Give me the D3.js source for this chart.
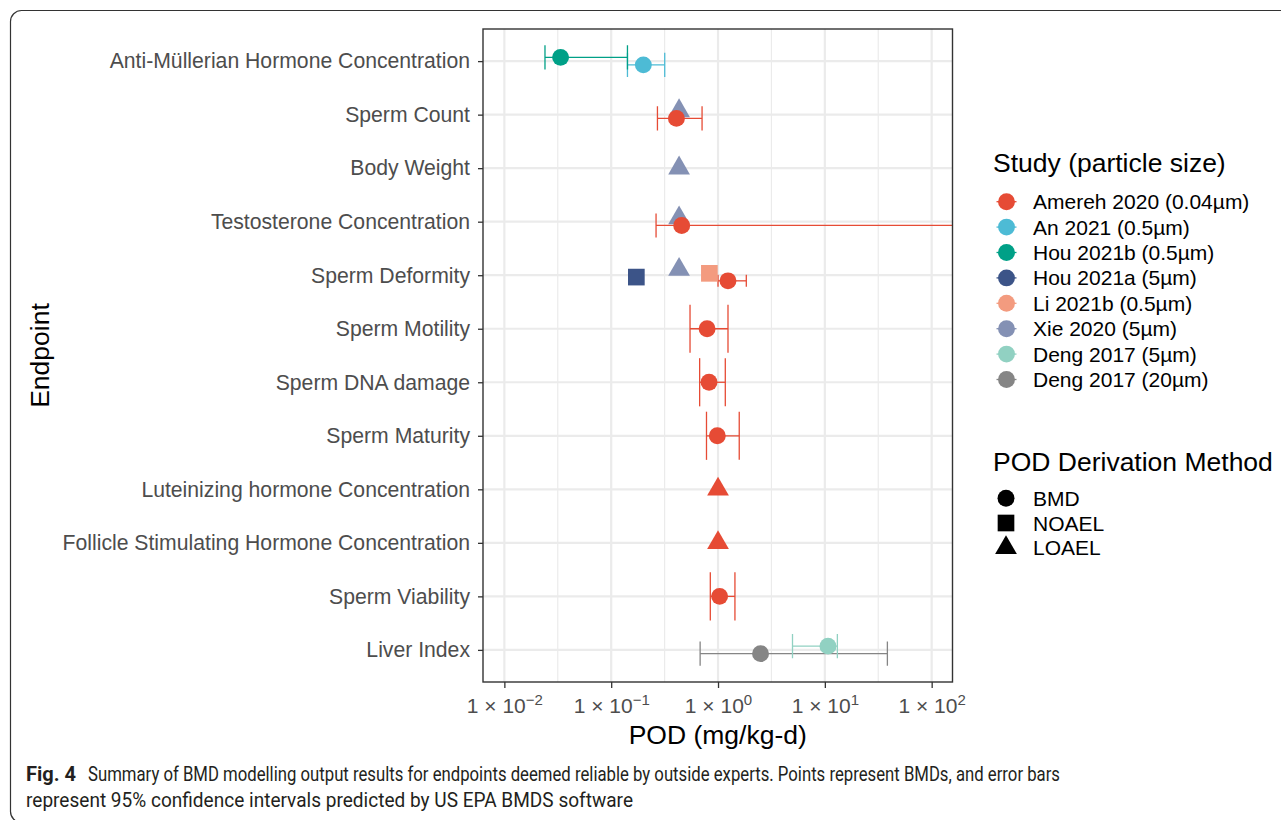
<!DOCTYPE html>
<html>
<head>
<meta charset="utf-8">
<script src="https://cdn.jsdelivr.net/npm/d3@7"></script>
<style>
  body { margin: 0; background: #fff; }
  svg { display: block; }
</style>
</head>
<body>
<svg id="chart" width="1281" height="820"></svg>
<script>
// endpoints, top to bottom
var endpoints = [
  "Anti-Müllerian Hormone Concentration",
  "Sperm Count",
  "Body Weight",
  "Testosterone Concentration",
  "Sperm Deformity",
  "Sperm Motility",
  "Sperm DNA damage",
  "Sperm Maturity",
  "Luteinizing hormone Concentration",
  "Follicle Stimulating Hormone Concentration",
  "Sperm Viability",
  "Liver Index"
];

var studies = [
  "Amereh 2020 (0.04µm)", "An 2021 (0.5µm)", "Hou 2021b (0.5µm)", "Hou 2021a (5µm)",
  "Li 2021b (0.5µm)", "Xie 2020 (5µm)", "Deng 2017 (5µm)", "Deng 2017 (20µm)"
];
var studyColors = ["#E64B35", "#4DBBD5", "#00A087", "#3C5488", "#F39B7F", "#8491B4", "#91D1C2", "#858585"];

var methods = ["BMD", "NOAEL", "LOAEL"];

// one entry per plotted point (within an endpoint, first entry sits lowest)
var rowEndpoint = [0, 0, 1, 1, 2, 3, 3, 4, 4, 4, 4, 5, 6, 7, 8, 9, 10, 11, 11];
var rowStudy    = [1, 2, 0, 5, 5, 0, 5, 0, 3, 4, 5, 0, 0, 0, 0, 0, 0, 7, 6];
var rowMethod   = [0, 0, 0, 2, 2, 0, 2, 0, 1, 1, 2, 0, 0, 0, 2, 2, 0, 0, 0];
var rowPOD      = [0.20, 0.0336, 0.408, 0.432, 0.432, 0.457, 0.432, 1.24, 0.172, 0.83, 0.432,
                   0.79, 0.824, 0.985, 1.0, 1.0, 1.035, 2.5, 10.7];
var rowLower    = [0.142, 0.024, 0.271, null, null, 0.263, null, 1.0, null, null, null,
                   0.547, 0.673, 0.78, null, null, 0.847, 0.68, 4.98];
var rowUpper    = [0.317, 0.142, 0.709, null, null, 1000, null, 1.84, null, null, null,
                   1.24, 1.17, 1.58, null, null, 1.44, 38.5, 13.1];

var xTicks = [1e-2, 1e-1, 1e0, 1e1, 1e2];
var xMinor = [Math.pow(10, -1.5), Math.pow(10, -0.5), Math.pow(10, 0.5), Math.pow(10, 1.5)];

// build table with dodge slot
var rows = rowPOD.map(function(v, i) {
  return {endpoint: endpoints[rowEndpoint[i]], study: rowStudy[i], method: rowMethod[i],
          pod: v, lower: rowLower[i], upper: rowUpper[i]};
});
var counts = {};
rows.forEach(function(r) {
  counts[r.endpoint] = (counts[r.endpoint] || 0);
  r.slot = counts[r.endpoint];
  counts[r.endpoint] += 1;
});
rows.forEach(function(r) { r.n = counts[r.endpoint]; });

var pLeft = 483, pRight = 952.5, pTop = 29, pBottom = 682;
var font = "'Liberation Sans', Arial, sans-serif";

var svg = d3.select("#chart");

// outer frame
svg.append("rect")
  .attr("x", 10.5).attr("y", 10.5)
  .attr("width", 1300).attr("height", 812)
  .attr("rx", 11)
  .attr("fill", "none").attr("stroke", "#333").attr("stroke-width", 1.2);

var x = d3.scaleLog()
  .domain([Math.pow(10, -2.2), Math.pow(10, 2.195)])
  .range([pLeft, pRight]);

var y = d3.scalePoint()
  .domain(endpoints)
  .range([pTop, pBottom])
  .padding(0.6);

var step = y.step();
var dodgeW = 15;
function yPos(r) {
  return y(r.endpoint) + dodgeW / 2 - dodgeW * (r.slot + 0.5) / r.n;
}

// grid
var grid = svg.append("g");
grid.selectAll(".minor").data(xMinor).enter().append("line")
  .attr("x1", function(d) { return x(d); }).attr("x2", function(d) { return x(d); })
  .attr("y1", pTop).attr("y2", pBottom)
  .attr("stroke", "#EBEBEB").attr("stroke-width", 1.2);
grid.selectAll(".majorx").data(xTicks).enter().append("line")
  .attr("x1", function(d) { return x(d); }).attr("x2", function(d) { return x(d); })
  .attr("y1", pTop).attr("y2", pBottom)
  .attr("stroke", "#EBEBEB").attr("stroke-width", 2.2);
grid.selectAll(".majory").data(endpoints).enter().append("line")
  .attr("x1", pLeft).attr("x2", pRight)
  .attr("y1", function(d) { return y(d); }).attr("y2", function(d) { return y(d); })
  .attr("stroke", "#EBEBEB").attr("stroke-width", 2.2);

svg.append("clipPath").attr("id", "panelClip")
  .append("rect").attr("x", pLeft).attr("y", pTop).attr("width", pRight - pLeft).attr("height", pBottom - pTop);

var plot = svg.append("g").attr("clip-path", "url(#panelClip)");

// error bars
var eb = plot.selectAll(".eb").data(rows.filter(function(r) { return r.lower != null; }))
  .enter().append("g")
  .attr("stroke", function(d) { return studyColors[d.study]; })
  .attr("stroke-width", 1.3)
  .attr("fill", "none");
eb.append("line")
  .attr("x1", function(d) { return x(d.lower); }).attr("x2", function(d) { return x(d.upper); })
  .attr("y1", yPos).attr("y2", yPos);
eb.each(function(d) {
  var h = 0.9 * step / d.n / 2;
  var g = d3.select(this);
  [d.lower, d.upper].forEach(function(v) {
    g.append("line")
      .attr("x1", x(v)).attr("x2", x(v))
      .attr("y1", yPos(d) - h).attr("y2", yPos(d) + h);
  });
});

// points
var symbolTypes = [d3.symbolCircle, d3.symbolSquare, d3.symbolTriangle];
var symbolSizes = [225, 278, 205];
function symbolPath(m) {
  return d3.symbol().type(symbolTypes[m]).size(symbolSizes[m])();
}
var drawOrder = rows.slice().sort(function(a, b) { return b.method - a.method; });
plot.selectAll(".pt").data(drawOrder).enter().append("path")
  .attr("d", function(d) { return symbolPath(d.method); })
  .attr("transform", function(d) { return "translate(" + x(d.pod) + "," + yPos(d) + ")"; })
  .attr("fill", function(d) { return studyColors[d.study]; });

// panel border
svg.append("rect")
  .attr("x", pLeft).attr("y", pTop).attr("width", pRight - pLeft).attr("height", pBottom - pTop)
  .attr("fill", "none").attr("stroke", "#333").attr("stroke-width", 1.4);

// axes
var xAxis = svg.append("g")
  .attr("transform", "translate(0," + pBottom + ")")
  .call(d3.axisBottom(x).tickValues(xTicks).tickSize(6).tickFormat(""));
xAxis.select(".domain").remove();
xAxis.selectAll(".tick line").attr("stroke", "#333").attr("stroke-width", 1.3);
xAxis.selectAll(".tick text").each(function(d) {
  var t = d3.select(this)
    .attr("y", 31).attr("dy", null)
    .attr("font-family", font).attr("font-size", 21).attr("fill", "#4D4D4D")
    .attr("text-anchor", "middle");
  t.append("tspan").text("1 × 10");
  t.append("tspan").attr("dy", -8).attr("font-size", 15)
    .text(String(Math.round(Math.log10(d))).replace("-", "−"));
});

var yAxis = svg.append("g")
  .attr("transform", "translate(" + pLeft + ",0)")
  .call(d3.axisLeft(y).tickSize(5).tickPadding(8));
yAxis.select(".domain").remove();
yAxis.selectAll(".tick line").attr("stroke", "#333").attr("stroke-width", 1.3);
yAxis.selectAll(".tick text")
  .attr("font-family", font).attr("font-size", 21.2).attr("fill", "#4D4D4D");

// axis titles
svg.append("text")
  .attr("x", (pLeft + pRight) / 2).attr("y", 744)
  .attr("text-anchor", "middle")
  .attr("font-family", font).attr("font-size", 26.5).attr("fill", "#000")
  .text("POD (mg/kg-d)");
svg.append("text")
  .attr("transform", "translate(49," + ((pTop + pBottom) / 2) + ") rotate(-90)")
  .attr("text-anchor", "middle")
  .attr("font-family", font).attr("font-size", 26.5).attr("fill", "#000")
  .text("Endpoint");

// legend: study
var lg1 = svg.append("g");
lg1.append("text")
  .attr("x", 993).attr("y", 172)
  .attr("font-family", font).attr("font-size", 26.5).attr("fill", "#000")
  .text("Study (particle size)");
var item = lg1.selectAll(".item").data(studies).enter().append("g")
  .attr("transform", function(d, i) { return "translate(1006.5," + (201.7 + i * 25.4) + ")"; });
item.append("line")
  .attr("x1", -10).attr("x2", 10)
  .attr("stroke", function(d, i) { return studyColors[i]; }).attr("stroke-width", 1.3);
item.append("path")
  .attr("d", symbolPath(0))
  .attr("fill", function(d, i) { return studyColors[i]; });
item.append("text")
  .attr("x", 26.5).attr("y", 7.5)
  .attr("font-family", font).attr("font-size", 21).attr("fill", "#000")
  .text(function(d) { return d; });

// legend: method
var lg2 = svg.append("g");
lg2.append("text")
  .attr("x", 993).attr("y", 471)
  .attr("font-family", font).attr("font-size", 26.5).attr("fill", "#000")
  .text("POD Derivation Method");
var item2 = lg2.selectAll(".item").data(methods).enter().append("g")
  .attr("transform", function(d, i) { return "translate(1006," + (498.3 + i * 24.7) + ")"; });
item2.append("path")
  .attr("d", function(d, i) { return symbolPath(i); })
  .attr("fill", "#000");
item2.append("text")
  .attr("x", 27).attr("y", 7.5)
  .attr("font-family", font).attr("font-size", 21).attr("fill", "#000")
  .text(function(d) { return d; });

// caption
var capFont = "Roboto, 'Noto Sans', sans-serif";
svg.append("text")
  .attr("x", 26).attr("y", 781)
  .attr("font-family", capFont).attr("font-size", 20).attr("font-weight", "bold").attr("fill", "#231F20")
  .attr("textLength", 50).attr("lengthAdjust", "spacingAndGlyphs")
  .text("Fig. 4");
svg.append("text")
  .attr("x", 88).attr("y", 781)
  .attr("font-family", capFont).attr("font-size", 20).attr("fill", "#231F20")
  .attr("textLength", 972).attr("lengthAdjust", "spacingAndGlyphs")
  .text("Summary of BMD modelling output results for endpoints deemed reliable by outside experts. Points represent BMDs, and error bars");
svg.append("text")
  .attr("x", 26).attr("y", 807)
  .attr("font-family", capFont).attr("font-size", 20).attr("fill", "#231F20")
  .attr("textLength", 607).attr("lengthAdjust", "spacingAndGlyphs")
  .text("represent 95% confidence intervals predicted by US EPA BMDS software");
</script>
</body>
</html>
